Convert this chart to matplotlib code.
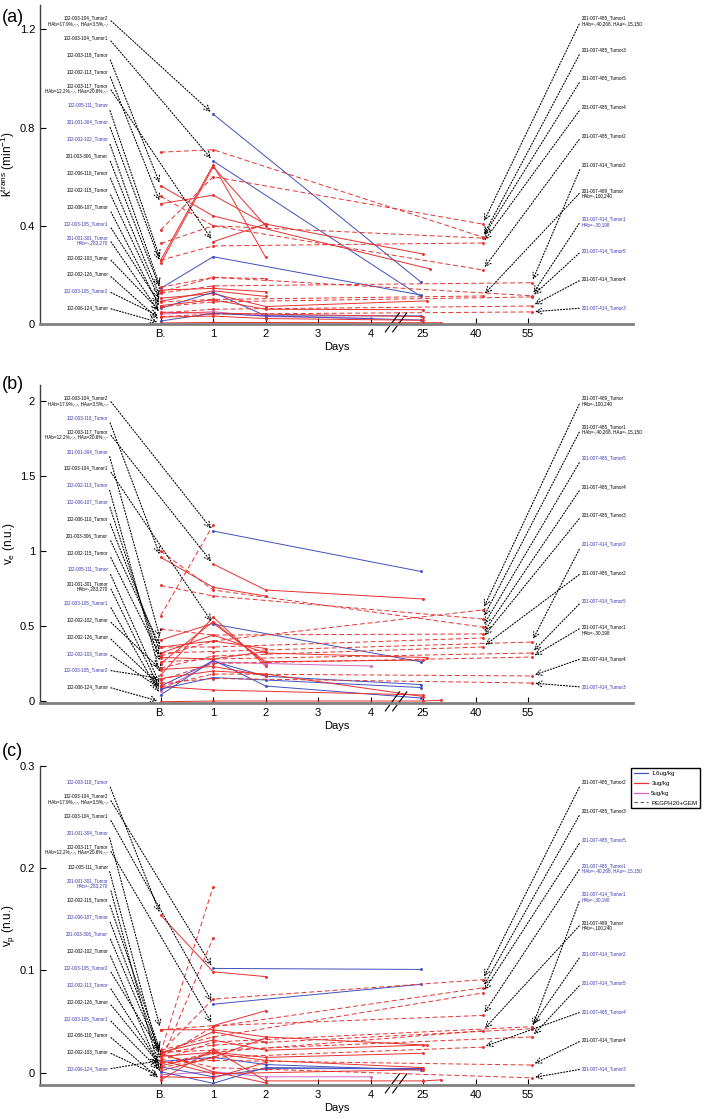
#!/usr/bin/env python
"""Per-tumour DCE-MRI parameters (ktrans, ve, vp) against days after dosing,
three stacked panels with labelled arrows to each tumour's trace.

  python plot.py      # writes out.png
"""

import numpy as np
import matplotlib
matplotlib.use("Agg")
import matplotlib.pyplot as plt
from matplotlib.lines import Line2D

plt.rcParams["font.family"] = ["Liberation Sans", "DejaVu Sans"]
plt.rcParams["mathtext.default"] = "regular"

# --- x axis (broken: B..4 then 25 / 40 / 55) --------------------------------
TICK_DAYS = [0, 1, 2, 3, 4, 25, 40, 55]
TICK_LABELS = ["B.", "1", "2", "3", "4", "25", "40", "55"]
LEGEND_LABELS = ["1.6ug/kg", "3ug/kg", "5ug/kg", "PEGPH20+GEM"]

# --- (a) ktrans -------------------------------------------------------------
KT_LEFT = ["102-003-104_Tumor2\nHAb=17.9%,-,-, HAa=3.5%,-,-", "102-003-104_Tumor1",
           "102-003-118_Tumor", "102-002-113_Tumor",
           "102-003-117_Tumor\nHAb=12.2%,-,-, HAa=20.6%,-,-", "102-005-111_Tumor",
           "201-001-304_Tumor", "102-002-102_Tumor", "201-003-306_Tumor",
           "102-006-110_Tumor", "102-002-115_Tumor", "102-006-107_Tumor",
           "102-003-105_Tumor1", "201-001-301_Tumor\nHAb=-,283,270",
           "102-002-103_Tumor", "102-002-126_Tumor", "102-003-105_Tumor2",
           "102-006-124_Tumor"]
KT_LEFT_BLUE = [0, 0, 0, 0, 0, 1, 1, 1, 0, 0, 0, 0, 1, 1, 0, 0, 1, 0]
KT_LEFT_GROUP = ["1.6", "1.6", "3", "3", "3", "3", "3", "1.6", "3", "3", "3",
                 "1.6", "3", "5", "3", "1.6", "3", "3"]
KT_LEFT_DAYS = [[1, 24], [1, 24], [0, 1, 27], [0, 1, 2, 25], [1, 2], [0, 1, 2],
                [0, 1, 2], [0, 1, 24], [0, 1, 2], [0, 1, 2, 26], [0, 1, 2],
                [0, 1, 2, 24], [0, 1, 2, 25], [0, 1, 2, 4], [0, 1, 2, 25],
                [0, 1, 2, 24], [0, 1, 2, 25], [0, 1, 25, 30]]
KT_LEFT_VALS = [[0.855, 0.172], [0.664, 0.113], [0.563, 0.44, 0.224],
                [0.49, 0.525, 0.407, 0.285], [0.335, 0.407], [0.26, 0.648, 0.271],
                [0.247, 0.64, 0.40], [0.145, 0.274, 0.118], [0.138, 0.145, 0.131],
                [0.105, 0.124, 0.071, 0.094], [0.092, 0.135, 0.112],
                [0.064, 0.129, 0.033, 0.033], [0.075, 0.098, 0.06, 0.058],
                [0.04, 0.05, 0.03, 0.023], [0.048, 0.044, 0.04, 0.03],
                [0.012, 0.043, 0.033, 0.016], [0.028, 0.032, 0.022, 0.015],
                [0.004, 0.006, 0.005, 0.005]]
KT_RIGHT = ["201-007-485_Tumor1\nHAb=-,40,268, HAa=-,15,150", "201-007-485_Tumor3",
            "201-007-485_Tumor5", "201-007-485_Tumor4", "201-007-485_Tumor2",
            "201-007-414_Tumor2", "201-007-489_Tumor\nHAb=-,100,240",
            "201-007-414_Tumor1\nHAb=-,30,198", "201-007-414_Tumor5",
            "201-007-414_Tumor4", "201-007-414_Tumor3"]
KT_RIGHT_BLUE = [0, 0, 0, 0, 0, 0, 0, 1, 1, 0, 1]
KT_RIGHT_DAYS = [[0, 1, 42]] * 5 + [[0, 1, 56], [0, 1, 42]] + [[0, 1, 56]] * 4
KT_RIGHT_VALS = [[0.383, 0.60, 0.407], [0.70, 0.71, 0.354], [0.328, 0.40, 0.35],
                 [0.26, 0.318, 0.33], [0.52, 0.40, 0.22], [0.125, 0.155, 0.168],
                 [0.09, 0.10, 0.114], [0.15, 0.19, 0.115], [0.07, 0.09, 0.11],
                 [0.045, 0.06, 0.073], [0.03, 0.04, 0.049]]
KT_EXTRA_DAYS = [[0, 1, 2]]
KT_EXTRA_VALS = [[0.13, 0.189, 0.185]]

# --- (b) ve -----------------------------------------------------------------
VE_LEFT = ["102-003-104_Tumor2\nHAb=17.9%,-,-, HAa=3.5%,-,-", "102-003-118_Tumor",
           "102-003-117_Tumor\nHAb=12.2%,-,-, HAa=20.6%,-,-", "201-001-304_Tumor",
           "102-003-104_Tumor1", "102-002-113_Tumor", "102-006-107_Tumor",
           "102-006-110_Tumor", "201-003-306_Tumor", "102-002-115_Tumor",
           "102-005-111_Tumor", "201-001-301_Tumor\nHAb=-,283,270",
           "102-003-105_Tumor1", "102-002-102_Tumor", "102-002-126_Tumor",
           "102-002-103_Tumor", "102-003-105_Tumor2", "102-006-124_Tumor"]
VE_LEFT_BLUE = [0, 1, 0, 1, 0, 1, 1, 0, 0, 0, 1, 0, 1, 0, 0, 1, 1, 0]
VE_LEFT_GROUP = ["1.6", "3", "3", "3", "1.6", "3", "3", "3", "3", "3", "1.6",
                 "5", "1.6", "3", "3", "1.6", "3", "3"]
VE_LEFT_DAYS = [[1, 24], [0, 1, 2], [1, 2, 25], [0, 1, 2, 25], [1, 24], [0, 1, 2],
                [0, 1, 2], [0, 1, 2, 26], [0, 1, 2], [0, 1, 2], [0, 1, 2, 24],
                [0, 1, 2, 4], [0, 1, 2, 24], [0, 1, 2], [0, 1, 25],
                [0, 1, 2, 24], [0, 1, 2, 25], [0, 1, 25, 30]]
VE_LEFT_VALS = [[1.133, 0.864], [0.958, 0.758, 0.70], [0.913, 0.74, 0.68],
                [0.407, 0.518, 0.262, 0.273], [0.513, 0.262], [0.173, 0.56, 0.233],
                [0.25, 0.53, 0.25], [0.32, 0.44, 0.32, 0.29], [0.36, 0.40, 0.35],
                [0.29, 0.28, 0.33], [0.10, 0.265, 0.165, 0.11],
                [0.07, 0.26, 0.25, 0.233], [0.04, 0.273, 0.10, 0.02],
                [0.21, 0.23, 0.17], [0.096, 0.073, 0.04], [0.08, 0.156, 0.14, 0.09],
                [0.15, 0.20, 0.18, 0.03], [-0.005, 0.0, 0.0, 0.005]]
VE_RIGHT = ["201-007-489_Tumor\nHAb=-,100,240",
            "201-007-485_Tumor1\nHAb=-,40,268, HAa=-,15,150", "201-007-485_Tumor5",
            "201-007-485_Tumor4", "201-007-485_Tumor3", "201-007-414_Tumor2",
            "201-007-485_Tumor2", "201-007-414_Tumor5",
            "201-007-414_Tumor1\nHAb=-,30,198", "201-007-414_Tumor4",
            "201-007-414_Tumor3"]
VE_RIGHT_BLUE = [0, 0, 1, 0, 0, 1, 0, 1, 0, 0, 1]
VE_RIGHT_DAYS = [[0, 1, 42]] * 5 + [[0, 1, 56], [0, 1, 42]] + [[0, 1, 56]] * 4
VE_RIGHT_VALS = [[0.30, 0.40, 0.607], [0.77, 0.70, 0.547], [1.0, 0.74, 0.493],
                 [0.48, 0.44, 0.447], [0.36, 0.36, 0.42], [0.32, 0.33, 0.393],
                 [0.22, 0.30, 0.36], [0.26, 0.28, 0.32], [0.14, 0.25, 0.293],
                 [0.10, 0.18, 0.167], [0.12, 0.15, 0.12]]
VE_EXTRA_DAYS = [[0, 1]]
VE_EXTRA_VALS = [[0.57, 1.173]]

# --- (c) vp -----------------------------------------------------------------
VP_LEFT = ["102-003-118_Tumor", "102-003-104_Tumor2\nHAb=17.9%,-,-, HAa=3.5%,-,-",
           "102-003-104_Tumor1", "201-001-304_Tumor",
           "102-003-117_Tumor\nHAb=12.2%,-,-, HAa=20.6%,-,-", "102-005-111_Tumor",
           "201-001-301_Tumor\nHAb=-,283,270", "102-002-115_Tumor",
           "102-006-107_Tumor", "201-003-306_Tumor", "102-002-102_Tumor",
           "102-003-105_Tumor2", "102-002-113_Tumor", "102-002-126_Tumor",
           "102-003-105_Tumor1", "102-006-110_Tumor", "102-002-103_Tumor",
           "102-006-124_Tumor"]
VP_LEFT_BLUE = [1, 0, 0, 1, 0, 0, 1, 0, 1, 1, 0, 1, 1, 0, 1, 0, 0, 1]
VP_LEFT_GROUP = ["3", "1.6", "1.6", "3", "3", "1.6", "5", "3", "3", "3", "3",
                 "3", "1.6", "3", "1.6", "3", "3", "3"]
VP_LEFT_DAYS = [[0, 1, 2], [1, 24], [1, 24], [0, 1, 2, 26], [1, 2], [0, 1, 2, 24],
                [0, 1, 2, 4], [0, 1, 2, 25], [0, 1, 2], [0, 1, 2, 25], [0, 1, 2],
                [0, 1, 2], [0, 1, 2, 24], [0, 1, 2, 25], [0, 1, 2, 24],
                [0, 1, 2, 25, 30], [0, 1, 2], [0, 1, 25]]
VP_LEFT_VALS = [[0.154, 0.0987, 0.094], [0.102, 0.101], [0.067, 0.0864],
                [0.042, 0.042, 0.035, 0.027], [0.046, 0.0606],
                [0.011, 0.015, 0.008, 0.0026], [-0.002, 0.001, -0.004, -0.004],
                [0.02, 0.032, 0.022, 0.027], [0.018, 0.04, 0.03],
                [0.016, 0.02, 0.015, 0.019], [0.002, 0.015, 0.034],
                [0.019, 0.001, -0.01], [0.0058, -0.004, 0.004, 0.004],
                [0.0066, 0.019, 0.012, 0.005], [0.001, -0.0104, 0.005, 0.004],
                [-0.007, 0.023, -0.008, -0.008, -0.007], [-0.004, -0.005, 0.01],
                [0.012, -0.001, 0.003]]
VP_RIGHT = ["201-007-485_Tumor2", "201-007-485_Tumor3", "201-007-485_Tumor5",
            "201-007-485_Tumor1\nHAb=-,40,268, HAa=-,15,150",
            "201-007-414_Tumor1\nHAb=-,30,198", "201-007-489_Tumor\nHAb=-,100,240",
            "201-007-414_Tumor2", "201-007-414_Tumor5", "201-007-485_Tumor4",
            "201-007-414_Tumor4", "201-007-414_Tumor3"]
VP_RIGHT_BLUE = [0, 0, 1, 1, 1, 0, 1, 1, 1, 0, 1]
VP_RIGHT_DAYS = [[0, 1, 42]] * 4 + [[0, 1, 56], [0, 1, 42], [0, 1, 56], [0, 1, 56],
                                    [0, 1, 42], [0, 1, 56], [0, 1, 56]]
VP_RIGHT_VALS = [[0.02, 0.072, 0.091], [0.015, 0.045, 0.083], [0.022, 0.035, 0.078],
                 [0.042, 0.046, 0.056], [0.019, 0.027, 0.043], [0.008, 0.02, 0.041],
                 [0.012, 0.03, 0.045], [0.02, 0.022, 0.035], [0.005, 0.015, 0.025],
                 [0.01, 0.012, 0.0075], [0.018, 0.005, -0.005]]
VP_EXTRA_DAYS = [[0, 1], [0, 1]]
VP_EXTRA_VALS = [[0.02, 0.182], [0.01, 0.132]]

# --- styling ----------------------------------------------------------------
STYLE = {"1.6": ("#4050bd", "-"), "3": ("#e8302e", "-"),
         "5": ("#d264c2", "-"), "PG": ("#e8302e", "--")}
TEXT_BLUE = "#3535b0"
FIG_W, FIG_H = 7.08, 11.19


def day_pos(days):
    """Map study day onto the broken axis (one slot per tick, linear between)."""
    xp = TICK_DAYS + [70]
    return np.interp(np.asarray(days, float), xp, np.arange(len(xp)))


def _trace(ax, group, days, vals):
    color, ls = STYLE[group]
    kw = dict(dashes=(5, 3)) if ls == "--" else {}
    ax.plot(day_pos(days), vals, color=color, lw=0.7, marker=".", ms=2.2, **kw)


def _labels(ax, names, blue, days, vals, side):
    ys = np.linspace(0.95, 0.05, len(names))
    for name, b, d, v, yf in zip(names, blue, days, vals, ys):
        two = "\n" in name
        if side == "left":
            tx, ha, k, rel = 0.115, "right", 0, (1, 0.75 if two else 0.5)
        else:
            tx, ha, k, rel = 0.914, "left", -1, (0, 0.75 if two else 0.5)
        ax.annotate(name, xy=(day_pos(d[k]), v[k]), xycoords="data",
                    xytext=(tx, yf), textcoords="axes fraction",
                    ha=ha, va="center", fontsize=3.3, linespacing=1.1,
                    color=TEXT_BLUE if b else "k", annotation_clip=False,
                    arrowprops=dict(arrowstyle="->,head_length=0.5,head_width=0.25",
                                    mutation_scale=8, ls=":", lw=0.8, color="k",
                                    shrinkA=0, shrinkB=2.5, relpos=rel))


def panel(fig, rect, ylim, yticks, ylabel, left, right, extra):
    ax = fig.add_axes(rect)
    l_names, l_blue, l_group, l_days, l_vals = left
    r_names, r_blue, r_days, r_vals = right
    for g, d, v in zip(l_group, l_days, l_vals):
        _trace(ax, g, d, v)
    for d, v in zip(r_days, r_vals):
        _trace(ax, "PG", d, v)
    for d, v in zip(*extra):
        _trace(ax, "PG", d, v)
    _labels(ax, l_names, l_blue, l_days, l_vals, "left")
    _labels(ax, r_names, r_blue, r_days, r_vals, "right")

    ax.set_xlim(-2.3, 9.0)
    ax.set_ylim(*ylim)
    ax.set_xticks(day_pos(TICK_DAYS))
    ax.set_xticklabels(TICK_LABELS)
    ax.set_yticks(yticks)
    ax.set_yticklabels([("%g" % t) for t in yticks])
    ax.tick_params(direction="in", length=4, labelsize=8, width=0.8)
    ax.set_xlabel("Days", fontsize=8, labelpad=2)
    ax.set_ylabel(ylabel, fontsize=8.5, labelpad=2)
    for s in ("top", "right"):
        ax.spines[s].set_visible(False)
    ax.spines["bottom"].set_linewidth(2.0)
    ax.spines["bottom"].set_color("#808080")
    ax.spines["left"].set_linewidth(1.0)
    ax.spines["left"].set_color("#404040")

    # axis-break marks between day 4 and day 25
    tr = ax.get_xaxis_transform()
    for x0 in (4.28, 4.42):
        ax.plot([x0, x0 + 0.27], [-0.025, 0.035], color="k", lw=0.8,
                transform=tr, clip_on=False)
    return ax


def main():
    fig = plt.figure(figsize=(FIG_W, FIG_H), dpi=100)
    x0, w = 40 / 708, 593 / 708

    panel(fig, [x0, 0.7105, w, 0.2851], (0.0, 1.30), [0, 0.4, 0.8, 1.2],
          r"k$^{trans}$ (min$^{-1}$)",
          (KT_LEFT, KT_LEFT_BLUE, KT_LEFT_GROUP, KT_LEFT_DAYS, KT_LEFT_VALS),
          (KT_RIGHT, KT_RIGHT_BLUE, KT_RIGHT_DAYS, KT_RIGHT_VALS),
          (KT_EXTRA_DAYS, KT_EXTRA_VALS))
    panel(fig, [x0, 0.3718, w, 0.2842], (-0.013, 2.107), [0, 0.5, 1, 1.5, 2],
          r"v$_e$ (n.u.)",
          (VE_LEFT, VE_LEFT_BLUE, VE_LEFT_GROUP, VE_LEFT_DAYS, VE_LEFT_VALS),
          (VE_RIGHT, VE_RIGHT_BLUE, VE_RIGHT_DAYS, VE_RIGHT_VALS),
          (VE_EXTRA_DAYS, VE_EXTRA_VALS))
    panel(fig, [x0, 0.0304, w, 0.2851], (-0.012, 0.30), [0, 0.1, 0.2, 0.3],
          r"v$_p$ (n.u.)",
          (VP_LEFT, VP_LEFT_BLUE, VP_LEFT_GROUP, VP_LEFT_DAYS, VP_LEFT_VALS),
          (VP_RIGHT, VP_RIGHT_BLUE, VP_RIGHT_DAYS, VP_RIGHT_VALS),
          (VP_EXTRA_DAYS, VP_EXTRA_VALS))

    for tag, y in (("(a)", 0.984), ("(b)", 0.656), ("(c)", 0.328)):
        fig.text(0.003, y, tag, fontsize=13, va="center", ha="left")

    handles = [Line2D([], [], color=STYLE[g][0], lw=0.9) for g in ("1.6", "3", "5")]
    handles.append(Line2D([], [], color="#555555", lw=0.8, dashes=(3, 2.5)))
    fig.legend(handles, LEGEND_LABELS, loc="upper left",
               bbox_to_anchor=(0.891, 0.3137), fontsize=4.4, frameon=True,
               fancybox=False, edgecolor="k", framealpha=1, handlelength=2.4,
               handletextpad=0.5, labelspacing=0.75, borderpad=0.45,
               borderaxespad=0)

    fig.savefig("out.png", dpi=100)
    plt.close(fig)


if __name__ == "__main__":
    main()
